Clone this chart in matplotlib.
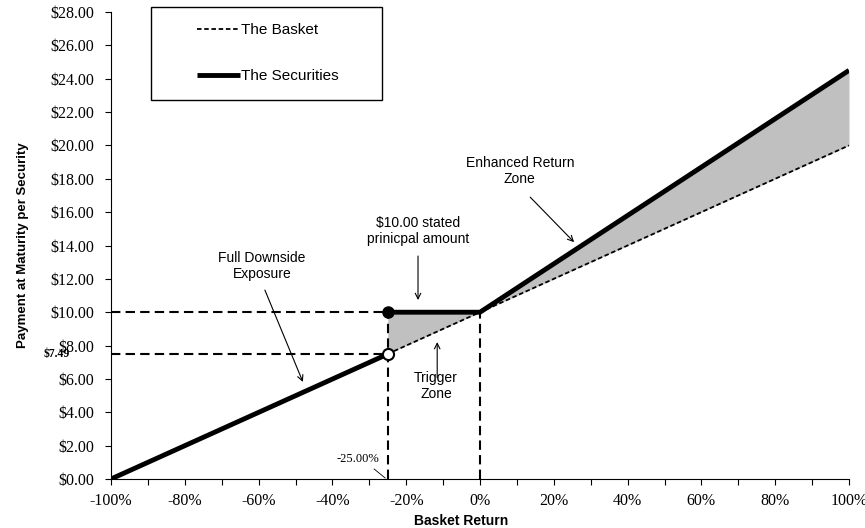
import matplotlib
matplotlib.use("Agg")
import matplotlib.pyplot as plt
from matplotlib.patches import Rectangle
from matplotlib.ticker import MultipleLocator, FuncFormatter

# data (basket return in %, payment in $)
basket_x = [-100, -25, 0, 100]
basket_y = [0.0, 7.5, 10.0, 20.0]
sec_down_x = [-100, -25]
sec_down_y = [0.0, 7.49]
sec_up_x = [-25, 0, 100]
sec_up_y = [10.0, 10.0, 24.5]
trigger = -25
principal = 10.0
trigger_value = 7.49

serif = "Liberation Serif"
sans = "Liberation Sans"

fig = plt.figure(figsize=(8.65, 5.28), dpi=100)
ax = fig.add_axes([111/865, 1-479/528, 738/865, 467/528])

# shaded zones between securities and basket
ax.fill_between(sec_up_x, basket_y[1:], sec_up_y, color="#c0c0c0", lw=0, zorder=1)

# reference lines
ref = dict(color="black", lw=1.5, linestyle=(0, (4.5, 2.5)), zorder=2)
ax.plot([-100, trigger], [principal, principal], **ref)
ax.plot([-100, trigger], [trigger_value, trigger_value], **ref)
ax.plot([trigger, trigger], [0, principal], **ref)
ax.plot([0, 0], [0, principal], **ref)

l1, = ax.plot(basket_x, basket_y, color="black", lw=1.3, linestyle=(0, (2.5, 1.5)),
              zorder=3, label="The Basket")
l2, = ax.plot(sec_down_x, sec_down_y, color="black", lw=3.5, zorder=4,
              solid_capstyle="butt", label="The Securities")
ax.plot(sec_up_x, sec_up_y, color="black", lw=3.5, zorder=4, solid_capstyle="butt")

ax.plot([trigger], [principal], "o", color="black", ms=8, zorder=5)
ax.plot([trigger], [trigger_value], "o", mfc="white", mec="black", mew=1.5, ms=8, zorder=5)

ax.set_xlim(-100, 100)
ax.set_ylim(0, 28)
for s in ["top", "right"]:
    ax.spines[s].set_visible(False)
ax.xaxis.set_major_locator(MultipleLocator(20))
ax.xaxis.set_minor_locator(MultipleLocator(10))
ax.yaxis.set_major_locator(MultipleLocator(2))
ax.xaxis.set_major_formatter(FuncFormatter(lambda v, p: f"{v:.0f}%"))
ax.yaxis.set_major_formatter(FuncFormatter(lambda v, p: f"${v:.2f}"))
ax.tick_params(axis="both", which="both", length=4, direction="out", width=0.8)
ax.tick_params(axis="x", pad=6)
ax.tick_params(axis="y", pad=8)
for lab in ax.get_xticklabels() + ax.get_yticklabels():
    lab.set_fontfamily(serif)
    lab.set_fontsize(11.5)

ax.set_xlabel("Basket Return", fontfamily=sans, fontweight="bold", fontsize=10)
ax.xaxis.set_label_coords((461-111)/738, -0.075)
ax.set_ylabel("Payment at Maturity per Security", fontfamily=sans, fontweight="bold", fontsize=9.5)
ax.yaxis.set_label_coords(-0.111, 0.5)

ax.text(-114.6, trigger_value, "$7.49", fontfamily=serif, fontweight="bold", fontsize=8.5,
        ha="center", va="center", clip_on=False)

arrow = dict(arrowstyle="->", lw=0.8, color="black", shrinkA=0, shrinkB=0)
tfont = dict(fontfamily=sans, fontsize=10, ha="center", va="center", linespacing=1.2)
ax.text(10.8, 18.45, "Enhanced Return\nZone", **tfont)
ax.annotate("", xy=(25.5, 14.2), xytext=(13.6, 16.9), arrowprops=arrow)
ax.text(-16.8, 14.87, "$10.00 stated\nprinicpal amount", **tfont)
ax.annotate("", xy=(-16.8, 10.73), xytext=(-16.8, 13.37), arrowprops=arrow)
ax.text(-59.1, 12.77, "Full Downside\nExposure", **tfont)
ax.annotate("", xy=(-48.0, 5.82), xytext=(-58.3, 11.33), arrowprops=arrow)
ax.text(-11.9, 5.58, "Trigger\nZone", **tfont)
ax.annotate("", xy=(-11.6, 8.21), xytext=(-11.6, 6.06), arrowprops=arrow)
ax.text(-33.1, 1.2, "-25.00%", fontfamily=serif, fontsize=9, ha="center", va="center")
ax.plot([-28.7, -25.7], [0.6, 0.06], color="black", lw=0.6)

# legend box
fig.patches.append(Rectangle((151/865, 1-100/528), 231/865, 93/528, transform=fig.transFigure,
                             fill=False, ec="black", lw=1.0))
fig.legend(handles=[l1, l2], loc="upper left", bbox_to_anchor=(197/865, 1-23/528),
           frameon=False, borderpad=0, borderaxespad=0, handlelength=2.8,
           handletextpad=0.1, labelspacing=2.1, prop=dict(family=sans, size=11))

fig.savefig("out.png", dpi=100)
